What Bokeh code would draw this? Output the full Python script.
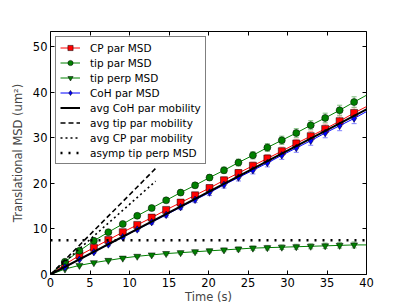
from bokeh.plotting import figure
from bokeh.models import (ColumnDataSource, Whisker, TeeHead, LinearAxis, Legend, LegendItem,
                          Range1d, FixedTicker, CustomJSTickFormatter)
from bokeh.embed import file_html
from bokeh.resources import INLINE

# ---- data ----
t = [0, 1.83, 3.66, 5.49, 7.32, 9.15, 10.98, 12.81, 14.64, 16.47, 18.30, 20.13,
     21.96, 23.79, 25.62, 27.45, 29.28, 31.11, 32.94, 34.77, 36.60, 38.43, 40.0]
cp_par = [0, 2.2, 4.2, 5.9, 7.6, 9.3, 10.9, 12.5, 14.2, 15.8, 17.4, 19.0, 20.7,
          22.3, 23.9, 25.5, 27.1, 28.8, 30.4, 32.0, 33.7, 35.5, 36.9]
cp_err = [0, 0.15, 0.2, 0.25, 0.3, 0.35, 0.4, 0.45, 0.5, 0.55, 0.6, 0.65, 0.7,
          0.75, 0.8, 0.85, 0.9, 0.95, 1.0, 1.05, 1.1, 1.15, 1.2]
tip_par = [0, 2.8, 5.2, 7.4, 9.3, 11.1, 12.9, 14.6, 16.3, 18.0, 19.6, 21.3, 22.9,
           24.6, 26.2, 27.9, 29.5, 31.1, 32.8, 34.4, 36.1, 37.9, 39.4]
tip_par_err = [0, 0.15, 0.2, 0.25, 0.3, 0.35, 0.4, 0.45, 0.5, 0.55, 0.6, 0.65, 0.7,
               0.75, 0.8, 0.85, 0.9, 0.95, 1.0, 1.05, 1.1, 1.15, 1.2]
tip_perp = [0, 1.2, 2.0, 2.6, 3.1, 3.6, 4.0, 4.3, 4.6, 4.8, 5.0, 5.2, 5.4,
            5.6, 5.8, 5.9, 6.0, 6.1, 6.2, 6.3, 6.4, 6.5, 6.5]
tip_perp_err = [0, 0.1, 0.15, 0.2, 0.2, 0.25, 0.25, 0.3, 0.3, 0.35, 0.35, 0.4, 0.4,
                0.45, 0.45, 0.5, 0.5, 0.55, 0.55, 0.6, 0.6, 0.65, 0.65]
coh_par = [0, 1.6, 3.3, 4.9, 6.6, 8.2, 9.9, 11.5, 13.1, 14.8, 16.4, 18.0, 19.7,
           21.3, 22.9, 24.5, 26.2, 27.8, 29.4, 31.1, 32.7, 34.3, 35.8]
coh_err = [0, 0.15, 0.2, 0.25, 0.3, 0.35, 0.4, 0.45, 0.5, 0.55, 0.6, 0.65, 0.7,
           0.75, 0.8, 0.85, 0.9, 0.95, 1.0, 1.05, 1.1, 1.15, 1.2]

coh_mob_t = [0, 40]
coh_mob_y = [0, 36.3]
tip_mob_t = [0, 13.3]
tip_mob_y = [0, 23.3]
cp_mob_t = [0, 13.3]
cp_mob_y = [0, 20.5]
asymp_t = [0, 40]
asymp_y = [7.5, 7.5]

x_ticks = [0, 5, 10, 15, 20, 25, 30, 35, 40]
y_ticks = [0, 10, 20, 30, 40, 50]

FONT = "DejaVu Sans"

p = figure(frame_width=316, frame_height=243, output_backend="svg", toolbar_location=None,
           x_range=Range1d(0, 40), y_range=Range1d(0, 53.4),
           min_border_left=50, min_border_top=31, min_border_right=33, min_border_bottom=0)
p.xgrid.visible = False
p.ygrid.visible = False
p.outline_line_color = "black"
p.outline_line_width = 1
p.background_fill_color = "white"
p.border_fill_color = "white"

def style_axis(ax, labels=True):
    ax.major_tick_in = 4
    ax.major_tick_out = 0
    ax.minor_tick_line_color = None
    ax.axis_line_color = None
    ax.major_tick_line_color = "black"
    ax.major_label_text_font = FONT
    ax.major_label_text_font_size = "11.5px"
    ax.major_label_text_color = "black"
    ax.axis_label_text_font = FONT
    ax.axis_label_text_font_size = "11.5px"
    ax.axis_label_text_font_style = "normal"
    if not labels:
        ax.formatter = CustomJSTickFormatter(code="return ''")
        ax.major_label_standoff = 0

p.xaxis.ticker = FixedTicker(ticks=x_ticks)
p.yaxis.ticker = FixedTicker(ticks=y_ticks)
p.xaxis.axis_label = "Time (s)"
p.yaxis.axis_label = "Translational MSD (um²)"
style_axis(p.xaxis[0])
style_axis(p.yaxis[0])
p.xaxis.major_label_standoff = 3
p.xaxis.axis_label_standoff = 0
p.yaxis.major_label_standoff = 3
p.yaxis.axis_label_standoff = 5

top = LinearAxis(ticker=FixedTicker(ticks=x_ticks))
right = LinearAxis(ticker=FixedTicker(ticks=y_ticks))
style_axis(top, False)
style_axis(right, False)
p.add_layout(top, "above")
p.add_layout(right, "right")

items = []

def series(y, err, color, errcolor, marker, size, label):
    src = ColumnDataSource(dict(x=t[1:-1], y=y[1:-1],
                                lo=[a - b for a, b in zip(y[1:-1], err[1:-1])],
                                hi=[a + b for a, b in zip(y[1:-1], err[1:-1])]))
    w = Whisker(source=src, base="x", upper="hi", lower="lo",
                line_color=errcolor, line_width=1,
                upper_head=TeeHead(size=5, line_color=errcolor, line_width=1),
                lower_head=TeeHead(size=5, line_color=errcolor, line_width=1))
    p.add_layout(w)
    ln = p.line(t, y, line_color=color, line_width=1)
    sc = p.scatter("x", "y", source=src, marker=marker, size=size, fill_color=color,
                   line_color="black", line_width=0.5)
    items.append(LegendItem(label=label, renderers=[ln, sc]))

series(cp_par, cp_err, "#ff0000", "#ff9999", "square", 7, "CP par MSD")
series(tip_par, tip_par_err, "#008000", "#80c080", "circle", 7, "tip par MSD")
series(tip_perp, tip_perp_err, "#008000", "#80c080", "inverted_triangle", 7, "tip perp MSD")
series(coh_par, coh_err, "#0000ff", "#8080ff", "diamond", 7.5, "CoH par MSD")

l1 = p.line(coh_mob_t, coh_mob_y, line_color="black", line_width=2)
items.append(LegendItem(label="avg CoH par mobility", renderers=[l1]))
l2 = p.line(tip_mob_t, tip_mob_y, line_color="black", line_width=1.6, line_dash="5 3")
items.append(LegendItem(label="avg tip par mobility", renderers=[l2]))
l3 = p.line(cp_mob_t, cp_mob_y, line_color="black", line_width=1.6, line_dash="2 3")
items.append(LegendItem(label="avg CP par mobility", renderers=[l3]))
l4 = p.line(asymp_t, asymp_y, line_color="black", line_width=2.5, line_dash="2 6")
items.append(LegendItem(label="asymp tip perp MSD", renderers=[l4]))

leg = Legend(items=items, location="top_left")
leg.margin = 5
leg.padding = 4
leg.spacing = 2
leg.glyph_width = 20
leg.glyph_height = 13
leg.label_height = 13
leg.label_standoff = 10
leg.label_text_font = FONT
leg.label_text_font_size = "10.5px"
leg.label_text_color = "black"
leg.border_line_color = "black"
leg.border_line_width = 1
leg.background_fill_alpha = 1
p.add_layout(leg, "center")

open("out.html", "w").write(file_html(p, INLINE))
